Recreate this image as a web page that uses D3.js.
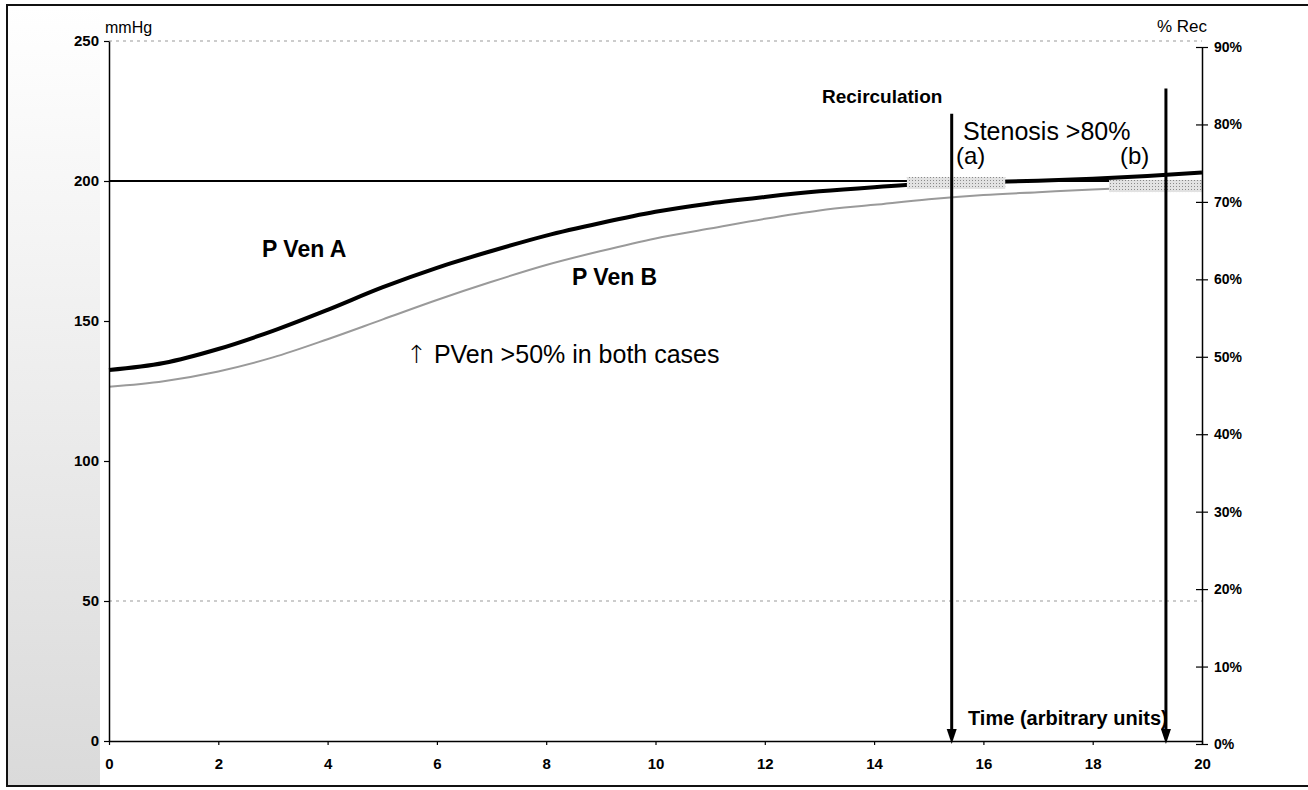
<!DOCTYPE html>
<html>
<head>
<meta charset="utf-8">
<script src="https://cdn.jsdelivr.net/npm/d3@7"></script>
<style>
  body { margin: 0; background: #fff; }
  text { font-family: "Liberation Sans", Arial, sans-serif; }
</style>
</head>
<body>
<script>
// data
var time   = [0,1,2,3,4,5,6,7,8,9,10,11,12,13,14,15,16,17,18,19,20];
var pVenA  = [132.5,135,140,146.5,154,162,169,175,180.5,185,189,192,194.3,196.3,197.8,199,199.6,200.1,200.8,201.8,203];
var pVenB  = [126.5,128.5,132,137,143.5,150.5,157.5,164,170,175,179.5,183,186.5,189.5,191.5,193.5,195,196,197,197.8,198.6];
var limitLine = 200;                 // mmHg reference line
var stenosisT   = [15.42, 19.34];    // (a), (b)
var stenosisTop = [224, 233];        // mmHg where the arrows start
var grayBandT   = [[14.6, 16.4], [18.3, 20]];
var grayBandV   = [199.3, 198.2];
var leftTicks  = [0, 50, 100, 150, 200, 250];
var rightTicks = [0, 10, 20, 30, 40, 50, 60, 70, 80, 90];
var timeTicks  = [0, 2, 4, 6, 8, 10, 12, 14, 16, 18, 20];

var svg = d3.select("body")
  .append("svg")
  .attr("width", 1308)
  .attr("height", 790);

var x  = d3.scaleLinear().domain([0, 20]).range([109, 1202]);
var yL = d3.scaleLinear().domain([0, 250]).range([741, 41]);
var yR = d3.scaleLinear().domain([0, 90]).range([744, 47]);

// scan-like grey strip at the left edge
var defs = svg.append("defs");
var grad = defs.append("linearGradient").attr("id", "strip")
  .attr("x1", 0).attr("y1", 0).attr("x2", 0).attr("y2", 1);
grad.append("stop").attr("offset", "0%").attr("stop-color", "#fff");
grad.append("stop").attr("offset", "30%").attr("stop-color", "#f4f4f4");
grad.append("stop").attr("offset", "100%").attr("stop-color", "#dadada");
svg.append("rect")
  .attr("x", 8).attr("y", 6).attr("width", 92).attr("height", 779)
  .style("fill", "url(#strip)");

// stipple for the grey blotches
var pat = defs.append("pattern").attr("id", "stipple")
  .attr("width", 3).attr("height", 3).attr("patternUnits", "userSpaceOnUse");
pat.append("rect").attr("width", 3).attr("height", 3).style("fill", "#e2e2e2");
pat.append("rect").attr("width", 1).attr("height", 1).style("fill", "#8a8a8a");

// frame
svg.append("rect")
  .attr("x", 7).attr("y", 5).attr("width", 1320).attr("height", 781)
  .style("fill", "none").style("stroke", "#111").style("stroke-width", 2);

// dotted grid lines
svg.selectAll(".grid")
  .data([250, 50])
  .enter().append("line")
  .attr("x1", x(0)).attr("x2", x(20))
  .attr("y1", function(d){ return yL(d); })
  .attr("y2", function(d){ return yL(d); })
  .style("stroke", "#999")
  .style("stroke-width", 1)
  .style("stroke-dasharray", "3,4");

// 200 mmHg line
svg.append("line")
  .attr("x1", x(0)).attr("x2", x(20))
  .attr("y1", yL(limitLine)).attr("y2", yL(limitLine))
  .style("stroke", "#000").style("stroke-width", 2);

var line = d3.line()
  .x(function(d, i){ return x(time[i]); })
  .y(function(d){ return yL(d); })
  .curve(d3.curveMonotoneX);

svg.append("path")
  .attr("d", line(pVenB))
  .style("fill", "none")
  .style("stroke", "#9a9a9a")
  .style("stroke-width", 2);

svg.append("path")
  .attr("d", line(pVenA))
  .style("fill", "none")
  .style("stroke", "#000")
  .style("stroke-width", 4);

// grey blotches over the curves
svg.selectAll(".band")
  .data(grayBandT)
  .enter().append("rect")
  .attr("x", function(d){ return x(d[0]); })
  .attr("width", function(d){ return x(d[1]) - x(d[0]); })
  .attr("y", function(d, i){ return yL(grayBandV[i]) - 6; })
  .attr("height", 12)
  .style("fill", "url(#stipple)");

// axes
function styleAxis(g, size) {
  g.select(".domain").style("stroke", "#000").style("stroke-width", 1.5);
  g.selectAll(".tick line").style("stroke", "#000").style("stroke-width", 1.2);
  g.selectAll("text")
    .attr("font-family", "'Liberation Sans', Arial, sans-serif")
    .attr("font-size", size)
    .attr("font-weight", "bold")
    .attr("fill", "#000");
}

var gL = svg.append("g")
  .attr("transform", "translate(" + x(0) + ",0)")
  .call(d3.axisLeft(yL).tickValues(leftTicks).tickSize(5).tickPadding(5).tickSizeOuter(0));
styleAxis(gL, 15);

var gB = svg.append("g")
  .attr("transform", "translate(0," + yL(0) + ")")
  .call(d3.axisBottom(x).tickValues(timeTicks).tickSize(4).tickPadding(13).tickSizeOuter(0));
styleAxis(gB, 15);

var gR = svg.append("g")
  .attr("transform", "translate(" + x(20) + ",0)")
  .call(d3.axisRight(yR).tickValues(rightTicks)
    .tickFormat(function(d){ return d + "%"; })
    .tickSize(6).tickPadding(6).tickSizeOuter(0));
gR.selectAll(".tick line").attr("x1", -6);
styleAxis(gR, 14);

// stenosis arrows
stenosisT.forEach(function(t, i) {
  var px = x(t);
  svg.append("line")
    .attr("x1", px).attr("x2", px)
    .attr("y1", yL(stenosisTop[i])).attr("y2", yL(0) - 10)
    .style("stroke", "#000").style("stroke-width", 3);
  svg.append("path")
    .attr("d", "M" + (px - 5) + "," + (yL(0) - 12) + "L" + (px + 5) + "," + (yL(0) - 12) + "L" + px + "," + (yL(0) + 3) + "Z")
    .style("fill", "#000");
});

// texts
function label(txt, px, py, size, weight) {
  return svg.append("text")
    .attr("x", px).attr("y", py)
    .attr("font-size", size)
    .attr("font-weight", weight)
    .attr("fill", "#000")
    .text(txt);
}
label("mmHg", 105, 33, 16, "normal");
label("% Rec", 1157, 32, 17, "normal");
label("Recirculation", 822, 103, 19, "bold");
label("Stenosis >80%", 963, 140, 25, "normal");
label("(a)", 956, 164, 24, "normal");
label("(b)", 1120, 164, 24, "normal");
label("P Ven A", 262, 257, 23, "bold");
label("P Ven B", 572, 285, 23, "bold");
var note = label("", 406, 363, 25, "normal");
note.append("tspan").attr("font-family", "'DejaVu Sans', sans-serif").attr("font-weight", "200").text("\u2191");
note.append("tspan").text(" PVen >50% in both cases");
label("Time (arbitrary units)", 968, 725, 20, "bold");
</script>
</body>
</html>
